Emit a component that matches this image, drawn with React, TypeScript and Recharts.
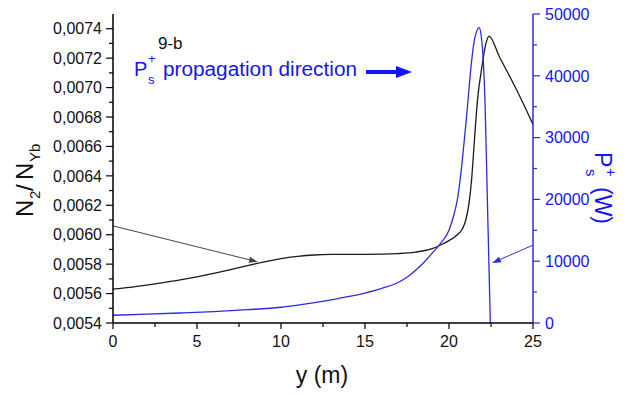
import React from "react";
import { LineChart, Line, XAxis, YAxis, ReferenceLine } from "recharts";

// y position along the fibre (m)
const nX = [0, 1, 2, 3, 4, 5, 6, 7, 8, 9, 10, 11, 12, 13, 14, 15, 16, 17, 18, 19, 19.5, 20, 20.5, 20.8, 21, 21.2, 21.35, 21.5, 21.7, 21.96, 22.2, 22.38, 23, 24, 25];
// N2/NYb population ratio
const nVal = [0.00563, 0.005642, 0.005658, 0.005675, 0.005693, 0.005714, 0.005738, 0.005763, 0.00579, 0.005815, 0.005838, 0.005853, 0.005862, 0.005866, 0.005867, 0.005867, 0.005868, 0.005872, 0.005882, 0.005905, 0.00593, 0.00596, 0.006, 0.00604, 0.0061, 0.00622, 0.00638, 0.00662, 0.00692, 0.00714, 0.0073, 0.00735, 0.00721, 0.00699, 0.00675];

const pX = [0, 2, 4, 6, 8, 10, 11, 12, 13, 14, 15, 16, 17, 17.5, 18, 18.5, 19, 19.5, 20, 20.3, 20.5, 20.7, 20.95, 21.1, 21.3, 21.55, 21.8, 21.9, 22, 22.14, 22.28, 22.46];
// P_s+ signal power (W)
const pVal = [1250, 1420, 1620, 1850, 2150, 2550, 2900, 3300, 3750, 4250, 4850, 5600, 6600, 7400, 8500, 9800, 11300, 12900, 15000, 17600, 20000, 24000, 30700, 35000, 41200, 46300, 47800, 46800, 44200, 36100, 20400, 0];

const xTicks = [0, 2.5, 5, 7.5, 10, 12.5, 15, 17.5, 20, 22.5, 25];
const leftTicks = [0.0054, 0.0055, 0.0056, 0.0057, 0.0058, 0.0059, 0.006, 0.0061, 0.0062, 0.0063, 0.0064, 0.0065, 0.0066, 0.0067, 0.0068, 0.0069, 0.007, 0.0071, 0.0072, 0.0073, 0.0074];
const rightTicks = [0, 5000, 10000, 15000, 20000, 25000, 30000, 35000, 40000, 45000, 50000];

const nData = nX.map((x, i) => ({ x, n: nVal[i] }));
const pData = pX.map((x, i) => ({ x, p: pVal[i] }));

const FONT = "Arial, 'Liberation Sans', sans-serif";
const BLUE = "#2b2be0";
const TEXT_BLUE = "#1414f5";

function BottomTick({ x, y, payload }: any) {
  const v = payload.value;
  const major = v % 5 === 0;
  return (
    <g>
      <line x1={x} x2={x} y1={y} y2={y + (major ? 6 : 4)} stroke="#000" strokeWidth={1.2} />
      {major && (
        <text x={x} y={y + 24} textAnchor="middle" fontSize={16} fontFamily={FONT} fill="#111">
          {v}
        </text>
      )}
    </g>
  );
}

function TopTick({ x, y, payload }: any) {
  const major = payload.value % 5 === 0;
  return <line x1={x} x2={x} y1={y} y2={y + (major ? 6 : 4)} stroke="#000" strokeWidth={1.2} />;
}

function LeftTick({ x, y, payload }: any) {
  const v = payload.value;
  const major = Math.round(v * 10000) % 2 === 0;
  return (
    <g>
      <line x1={x} x2={x - (major ? 7 : 4)} y1={y} y2={y} stroke="#000" strokeWidth={1.2} />
      {major && (
        <text x={x - 11} y={y} dy="0.36em" textAnchor="end" fontSize={16} fontFamily={FONT} fill="#111">
          {v.toFixed(4).replace(".", ",")}
        </text>
      )}
    </g>
  );
}

function RightTick({ x, y, payload }: any) {
  const v = payload.value;
  const major = v % 10000 === 0;
  return (
    <g>
      <line x1={x} x2={x + (major ? 7 : 4)} y1={y} y2={y} stroke={BLUE} strokeWidth={1.2} />
      {major && (
        <text x={x + 12} y={y} dy="0.36em" textAnchor="start" fontSize={16} fontFamily={FONT} fill={TEXT_BLUE}>
          {v}
        </text>
      )}
    </g>
  );
}

function arrowShape(color: string) {
  return (props: any) => {
    const { x1, y1, x2, y2 } = props;
    const a = Math.atan2(y2 - y1, x2 - x1);
    const len = 9;
    const hw = 3;
    const bx = x2 - len * Math.cos(a);
    const by = y2 - len * Math.sin(a);
    const px = -Math.sin(a) * hw;
    const py = Math.cos(a) * hw;
    return (
      <g>
        <line x1={x1} y1={y1} x2={bx} y2={by} stroke={color} strokeWidth={1} />
        <polygon points={`${x2},${y2} ${bx + px},${by + py} ${bx - px},${by - py}`} fill={color} />
      </g>
    );
  };
}

function Annotations() {
  return (
    <svg width={641} height={394} style={{ position: "absolute", left: 0, top: 0, pointerEvents: "none" }}>
      <text x={158} y={49} fontSize={17} fontFamily={FONT} fill="#111">9-b</text>
      <g fontFamily={FONT} fill={TEXT_BLUE}>
        <text x={134} y={76} fontSize={20}>P</text>
        <text x={148} y={63} fontSize={13}>+</text>
        <text x={148} y={84} fontSize={13}>s</text>
        <text x={163} y={76} fontSize={20} textLength={194} lengthAdjust="spacingAndGlyphs">propagation direction</text>
      </g>
      <line x1={366} y1={72} x2={398} y2={72} stroke={TEXT_BLUE} strokeWidth={4} />
      <polygon points="412,72 396,66 396,78" fill={TEXT_BLUE} />
      {/* left title */}
      <g transform="translate(33,217) rotate(-90)" fontFamily={FONT} fill="#111">
        <text x={0} y={0} fontSize={24}>N</text>
        <text x={18} y={7} fontSize={15}>2</text>
        <text x={26} y={0} fontSize={24}>/</text>
        <text x={37} y={0} fontSize={24}>N</text>
        <text x={55} y={7} fontSize={15}>Yb</text>
      </g>
      {/* right title */}
      <g transform="translate(595,152) rotate(90)" fontFamily={FONT} fill={TEXT_BLUE}>
        <text x={0} y={0} fontSize={23}>P</text>
        <text x={16} y={-11} fontSize={15}>+</text>
        <text x={17} y={9} fontSize={15}>s</text>
        <text x={35} y={0} fontSize={23}>(W)</text>
      </g>
      <text x={322} y={383} textAnchor="middle" fontSize={23} fontFamily={FONT} fill="#111">y (m)</text>
    </svg>
  );
}

export default function App() {
  return (
    <div style={{ position: "absolute", left: 0, top: 0, width: 641, height: 394, background: "#fff" }}>
      <LineChart width={641} height={394} margin={{ top: 14, right: 0, bottom: 0, left: 0 }}>
        <XAxis
          xAxisId="b"
          dataKey="x"
          type="number"
          domain={[0, 25]}
          ticks={xTicks}
          interval={0}
          height={71}
          tickSize={0}
          tickMargin={0}
          tickLine={false}
          axisLine={{ stroke: "#000", strokeWidth: 1.5 }}
          tick={(p: any) => <BottomTick {...p} />}
          allowDataOverflow
        />
        <XAxis
          xAxisId="t"
          orientation="top"
          type="number"
          domain={[0, 25]}
          ticks={xTicks}
          interval={0}
          height={0}
          tickSize={0}
          tickMargin={0}
          tickLine={false}
          axisLine={{ stroke: "#000", strokeWidth: 1.5 }}
          tick={(p: any) => <TopTick {...p} />}
        />
        <YAxis
          yAxisId="left"
          type="number"
          domain={[0.0054, 0.0075]}
          ticks={leftTicks}
          interval={0}
          width={113}
          tickSize={0}
          tickMargin={0}
          tickLine={false}
          axisLine={{ stroke: "#000", strokeWidth: 1.5 }}
          tick={(p: any) => <LeftTick {...p} />}
          allowDataOverflow
        />
        <YAxis
          yAxisId="right"
          orientation="right"
          type="number"
          domain={[0, 50000]}
          ticks={rightTicks}
          interval={0}
          width={108}
          tickSize={0}
          tickMargin={0}
          tickLine={false}
          axisLine={{ stroke: BLUE, strokeWidth: 1.5 }}
          tick={(p: any) => <RightTick {...p} />}
          allowDataOverflow
        />
        <Line
          xAxisId="b"
          yAxisId="left"
          data={nData}
          dataKey="n"
          type="monotone"
          stroke="#1a1a1a"
          strokeWidth={1.3}
          dot={false}
          activeDot={false}
          isAnimationActive={false}
        />
        <Line
          xAxisId="b"
          yAxisId="right"
          data={pData}
          dataKey="p"
          type="monotone"
          stroke={BLUE}
          strokeWidth={1.3}
          dot={false}
          activeDot={false}
          isAnimationActive={false}
        />
        <ReferenceLine
          xAxisId="b"
          yAxisId="left"
          segment={[{ x: 0, y: 0.00606 }, { x: 8.63, y: 0.005815 }]}
          shape={arrowShape("#444")}
          ifOverflow="visible"
        />
        <ReferenceLine
          xAxisId="b"
          yAxisId="right"
          segment={[{ x: 25, y: 12600 }, { x: 22.56, y: 9700 }]}
          shape={arrowShape(BLUE)}
          ifOverflow="visible"
        />
      </LineChart>
      <Annotations />
    </div>
  );
}
